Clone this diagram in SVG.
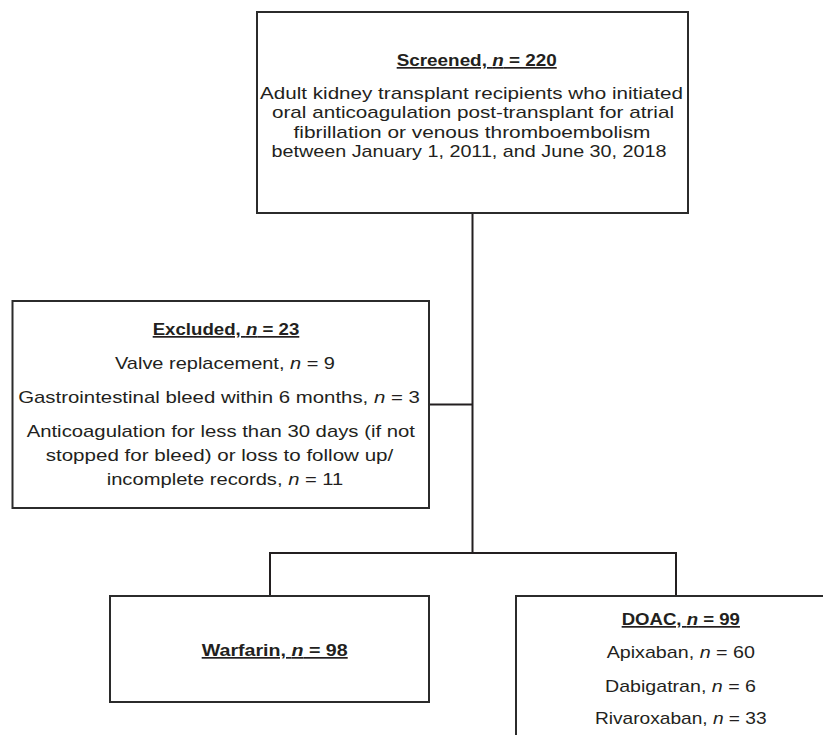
<svg xmlns="http://www.w3.org/2000/svg" width="823" height="735" viewBox="0 0 823 735">
  <style>
    .box { fill: #ffffff; stroke: #2b2b2b; stroke-width: 2; }
    .conn { stroke: #231f20; stroke-width: 2; fill: none; }
    text { font-family: "Liberation Sans", Arial, sans-serif; font-size: 17px; fill: #231f20; text-anchor: middle; }
    .title { font-weight: bold; text-decoration: underline; }
    .it { font-style: italic; }
  </style>
  <rect width="823" height="735" fill="#ffffff"/>
  <g id="connectors">
    <line class="conn" x1="472.5" y1="213" x2="472.5" y2="554"/>
    <line class="conn" x1="429" y1="404.5" x2="472.5" y2="404.5"/>
    <polyline class="conn" points="270,596 270,553 676,553 676,596"/>
  </g>
  <g id="screened">
    <rect class="box" x="257" y="12" width="431" height="201"/>
    <text class="title" x="476.7" y="66" textLength="160" lengthAdjust="spacingAndGlyphs">Screened, <tspan class="it">n</tspan> = 220</text>
    <text x="471.5" y="99.2" textLength="423" lengthAdjust="spacingAndGlyphs">Adult kidney transplant recipients who initiated</text>
    <text x="473" y="118.4" textLength="402" lengthAdjust="spacingAndGlyphs">oral anticoagulation post-transplant for atrial</text>
    <text x="472" y="137.6" textLength="357" lengthAdjust="spacingAndGlyphs">fibrillation or venous thromboembolism</text>
    <text x="469" y="156.8" textLength="395" lengthAdjust="spacingAndGlyphs">between January 1, 2011, and June 30, 2018</text>
  </g>
  <g id="excluded">
    <rect class="box" x="12.5" y="301" width="416.5" height="207"/>
    <text class="title" x="226" y="335" textLength="146.6" lengthAdjust="spacingAndGlyphs">Excluded, <tspan class="it">n</tspan> = 23</text>
    <text x="225" y="369" textLength="220" lengthAdjust="spacingAndGlyphs">Valve replacement, <tspan class="it">n</tspan> = 9</text>
    <text x="219" y="403" textLength="401.7" lengthAdjust="spacingAndGlyphs">Gastrointestinal bleed within 6 months, <tspan class="it">n</tspan> = 3</text>
    <text x="220.8" y="437" textLength="388.3" lengthAdjust="spacingAndGlyphs">Anticoagulation for less than 30 days (if not</text>
    <text x="219.5" y="461" textLength="347.6" lengthAdjust="spacingAndGlyphs">stopped for bleed) or loss to follow up/</text>
    <text x="225" y="485" textLength="236.6" lengthAdjust="spacingAndGlyphs">incomplete records, <tspan class="it">n</tspan> = 11</text>
  </g>
  <g id="warfarin">
    <rect class="box" x="110" y="596" width="319" height="106"/>
    <text class="title" x="274.7" y="656" textLength="146" lengthAdjust="spacingAndGlyphs">Warfarin, <tspan class="it">n</tspan> = 98</text>
  </g>
  <g id="doac">
    <rect class="box" x="516" y="596" width="330" height="200"/>
    <text class="title" x="680.8" y="625" textLength="118.3" lengthAdjust="spacingAndGlyphs">DOAC, <tspan class="it">n</tspan> = 99</text>
    <text x="680.8" y="658" textLength="148.3" lengthAdjust="spacingAndGlyphs">Apixaban, <tspan class="it">n</tspan> = 60</text>
    <text x="680.5" y="692" textLength="151" lengthAdjust="spacingAndGlyphs">Dabigatran, <tspan class="it">n</tspan> = 6</text>
    <text x="680.8" y="723.5" textLength="171.7" lengthAdjust="spacingAndGlyphs">Rivaroxaban, <tspan class="it">n</tspan> = 33</text>
  </g>
</svg>
